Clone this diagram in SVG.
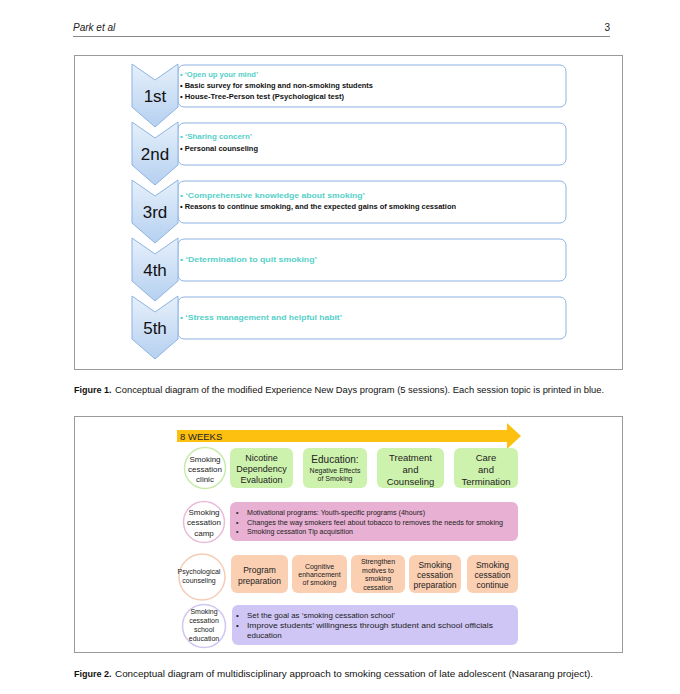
<svg xmlns="http://www.w3.org/2000/svg" width="680" height="694" viewBox="0 0 680 694">
<defs>
<linearGradient id="chev" x1="0" y1="0" x2="0" y2="1">
<stop offset="0" stop-color="#e6f0fb"/>
<stop offset="1" stop-color="#b5d0f0"/>
</linearGradient>
<style>
.hdr{font-family:"Liberation Sans",Arial,sans-serif;font-size:10px;fill:#222}
.cap{font-family:"Liberation Sans",Arial,sans-serif;font-size:9px;fill:#111}
.frame{fill:#fff;stroke:#9a9a9a;stroke-width:1}
.chev{fill:url(#chev);stroke:#8db3e2;stroke-width:1}
.sbox{fill:#fff;stroke:#8db3e2;stroke-width:1}
.num{font-family:"Liberation Sans",Arial,sans-serif;font-size:17px;fill:#111;text-anchor:middle}
.topic{font-family:"Liberation Sans",Arial,sans-serif;font-size:8px;font-weight:bold;fill:#55d0c8}
.item{font-family:"Liberation Sans",Arial,sans-serif;font-size:8px;font-weight:bold;fill:#111}
.t{font-family:"Liberation Sans",Arial,sans-serif;fill:#222;text-anchor:middle}
.l{font-family:"Liberation Sans",Arial,sans-serif;fill:#222}
.cg{fill:#fff;stroke:#c8eaa8;stroke-width:1.5}
.cp{fill:#fff;stroke:#e9bcd9;stroke-width:1.5}
.co{fill:#fff;stroke:#f5cdb5;stroke-width:1.5}
.cv{fill:#fff;stroke:#cfc6f2;stroke-width:1.5}
.g{fill:#cdf2ad}
.p{fill:#e8b0d2}
.o{fill:#fbcfb2}
.v{fill:#cfc6f6}
</style>
</defs>
<rect width="680" height="694" fill="#fff"/>

<!-- header -->
<text class="hdr" x="73" y="31" font-style="italic">Park et al</text>
<text class="hdr" x="610" y="31" text-anchor="end">3</text>
<line x1="73" y1="36.5" x2="610" y2="36.5" stroke="#888" stroke-width="1"/>

<!-- Figure 1 -->
<rect class="frame" x="74.5" y="55.5" width="548" height="314"/>

<g id="session1">
<rect class="sbox" x="178" y="65" width="388" height="42" rx="6"/>
<path class="chev" d="M132,64 L155,80 L178,64 L178,107 L155,127 L132,107 Z"/>
<text class="num" x="155" y="102">1st</text>
<text class="topic" x="180" y="77" textLength="78" lengthAdjust="spacingAndGlyphs">• ‘Open up your mind’</text>
<text class="item" x="180" y="88" textLength="193" lengthAdjust="spacingAndGlyphs">• Basic survey for smoking and non-smoking students</text>
<text class="item" x="180" y="99" textLength="164" lengthAdjust="spacingAndGlyphs">• House-Tree-Person test (Psychological test)</text>
</g>
<g id="session2">
<rect class="sbox" x="178" y="123" width="388" height="42" rx="6"/>
<path class="chev" d="M132,122 L155,138 L178,122 L178,165 L155,185 L132,165 Z"/>
<text class="num" x="155" y="160">2nd</text>
<text class="topic" x="180" y="139" textLength="72" lengthAdjust="spacingAndGlyphs">• ‘Sharing concern’</text>
<text class="item" x="180" y="151" textLength="78" lengthAdjust="spacingAndGlyphs">• Personal counseling</text>
</g>
<g id="session3">
<rect class="sbox" x="178" y="181" width="388" height="42" rx="6"/>
<path class="chev" d="M132,180 L155,196 L178,180 L178,223 L155,243 L132,223 Z"/>
<text class="num" x="155" y="218">3rd</text>
<text class="topic" x="180" y="198" textLength="185" lengthAdjust="spacingAndGlyphs">• ‘Comprehensive knowledge about smoking’</text>
<text class="item" x="180" y="209" textLength="276" lengthAdjust="spacingAndGlyphs">• Reasons to continue smoking, and the expected gains of smoking cessation</text>
</g>
<g id="session4">
<rect class="sbox" x="178" y="239" width="388" height="42" rx="6"/>
<path class="chev" d="M132,238 L155,254 L178,238 L178,281 L155,301 L132,281 Z"/>
<text class="num" x="155" y="276">4th</text>
<text class="topic" x="180" y="262" textLength="137" lengthAdjust="spacingAndGlyphs">• ‘Determination to quit smoking’</text>
</g>
<g id="session5">
<rect class="sbox" x="178" y="297" width="388" height="42" rx="6"/>
<path class="chev" d="M132,296 L155,312 L178,296 L178,339 L155,359 L132,339 Z"/>
<text class="num" x="155" y="334">5th</text>
<text class="topic" x="180" y="320" textLength="162" lengthAdjust="spacingAndGlyphs">• ‘Stress management and helpful habit’</text>
</g>

<text class="cap" x="74" y="393"><tspan font-weight="bold">Figure 1.</tspan></text>
<text class="cap" x="115" y="393" textLength="489" lengthAdjust="spacingAndGlyphs">Conceptual diagram of the modified Experience New Days program (5 sessions). Each session topic is printed in blue.</text>

<!-- Figure 2 -->
<rect class="frame" x="74.5" y="416.5" width="548" height="236"/>

<g id="connectors">
<path id="weeks-arrow" d="M177,430 L507,430 L507,423 L521,436 L507,449 L507,442 L177,442 Z" fill="#fdbf10"/>
</g>
<text class="l" x="180" y="440" font-size="9.5">8 WEEKS</text>

<g id="clinic">
<circle class="cg" cx="205" cy="468" r="20.5"/>
<text class="t" x="205" y="462" font-size="8">Smoking</text>
<text class="t" x="205" y="472" font-size="8">cessation</text>
<text class="t" x="205" y="482" font-size="8">clinic</text>
</g>
<g id="nicotine">
<rect class="g" x="230" y="448" width="63" height="40" rx="6"/>
<text class="t" x="261.5" y="461" font-size="9">Nicotine</text>
<text class="t" x="261.5" y="472" font-size="9">Dependency</text>
<text class="t" x="261.5" y="483" font-size="9">Evaluation</text>
</g>
<g id="education">
<rect class="g" x="303" y="448" width="64" height="40" rx="6"/>
<text class="t" x="335" y="463" font-size="10">Education:</text>
<text class="t" x="335" y="473" font-size="7">Negative Effects</text>
<text class="t" x="335" y="481" font-size="7">of Smoking</text>
</g>
<g id="treatment">
<rect class="g" x="377" y="448" width="67" height="40" rx="6"/>
<text class="t" x="410.5" y="461" font-size="9.5">Treatment</text>
<text class="t" x="410.5" y="473" font-size="9.5">and</text>
<text class="t" x="410.5" y="485" font-size="9.5">Counseling</text>
</g>
<g id="care">
<rect class="g" x="454" y="448" width="64" height="40" rx="6"/>
<text class="t" x="486" y="461" font-size="9.5">Care</text>
<text class="t" x="486" y="473" font-size="9.5">and</text>
<text class="t" x="486" y="485" font-size="9.5">Termination</text>
</g>

<g id="camp">
<circle class="cp" cx="204" cy="522" r="20.5"/>
<text class="t" x="204" y="515" font-size="8">Smoking</text>
<text class="t" x="204" y="525" font-size="8">cessation</text>
<text class="t" x="204" y="536" font-size="8">camp</text>
</g>
<g id="camp-box">
<rect class="p" x="230" y="502" width="288" height="39" rx="6"/>
<text class="l" x="236" y="515" font-size="7">•</text>
<text class="l" x="236" y="525" font-size="7">•</text>
<text class="l" x="236" y="534" font-size="7">•</text>
<text class="l" x="247" y="515" font-size="7.2" textLength="178" lengthAdjust="spacingAndGlyphs">Motivational programs: Youth-specific programs (4hours)</text>
<text class="l" x="247" y="525" font-size="7.2" textLength="256" lengthAdjust="spacingAndGlyphs">Changes the way smokers feel about tobacco to removes the needs for smoking</text>
<text class="l" x="247" y="534" font-size="7.2" textLength="106" lengthAdjust="spacingAndGlyphs">Smoking cessation Tip acquisition</text>
</g>

<g id="psych">
<circle class="co" cx="202" cy="577" r="23"/>
<text class="t" x="199" y="574" font-size="7">Psychological</text>
<text class="t" x="199" y="583" font-size="7">counseling</text>
</g>
<g id="prog-prep">
<rect class="o" x="231" y="555" width="57" height="38" rx="6"/>
<text class="t" x="259.5" y="573" font-size="8.5">Program</text>
<text class="t" x="259.5" y="584" font-size="8.5">preparation</text>
</g>
<g id="cognitive">
<rect class="o" x="292" y="555" width="55" height="38" rx="6"/>
<text class="t" x="319.5" y="569" font-size="7">Cognitive</text>
<text class="t" x="319.5" y="577" font-size="7">enhancement</text>
<text class="t" x="319.5" y="585" font-size="7">of smoking</text>
</g>
<g id="strengthen">
<rect class="o" x="351" y="555" width="54" height="38" rx="6"/>
<text class="t" x="378" y="564" font-size="7">Strengthen</text>
<text class="t" x="378" y="572.5" font-size="7">motives to</text>
<text class="t" x="378" y="581" font-size="7">smoking</text>
<text class="t" x="378" y="589.5" font-size="7">cessation</text>
</g>
<g id="cess-prep">
<rect class="o" x="409" y="555" width="52" height="38" rx="6"/>
<text class="t" x="435" y="568" font-size="8.5">Smoking</text>
<text class="t" x="435" y="578" font-size="8.5">cessation</text>
<text class="t" x="435" y="588" font-size="8.5">preparation</text>
</g>
<g id="cess-cont">
<rect class="o" x="467" y="555" width="51" height="38" rx="6"/>
<text class="t" x="492.5" y="568" font-size="8.5">Smoking</text>
<text class="t" x="492.5" y="578" font-size="8.5">cessation</text>
<text class="t" x="492.5" y="588" font-size="8.5">continue</text>
</g>

<g id="school">
<circle class="cv" cx="204" cy="626" r="21.5"/>
<text class="t" x="204" y="614" font-size="7">Smoking</text>
<text class="t" x="204" y="623" font-size="7">cessation</text>
<text class="t" x="204" y="632" font-size="7">school</text>
<text class="t" x="204" y="641" font-size="7">education</text>
</g>
<g id="school-box">
<rect class="v" x="232" y="605" width="286" height="40" rx="6"/>
<text class="l" x="236" y="618" font-size="8">•</text>
<text class="l" x="236" y="628" font-size="8">•</text>
<text class="l" x="247" y="618" font-size="8" textLength="148" lengthAdjust="spacingAndGlyphs">Set the goal as ‘smoking cessation school’</text>
<text class="l" x="247" y="628" font-size="8" textLength="246" lengthAdjust="spacingAndGlyphs">Improve students’ willingness through student and school officials</text>
<text class="l" x="247" y="638" font-size="8">education</text>
</g>

<text class="cap" x="74" y="677"><tspan font-weight="bold">Figure 2.</tspan></text>
<text class="cap" x="115" y="677" textLength="478" lengthAdjust="spacingAndGlyphs">Conceptual diagram of multidisciplinary approach to smoking cessation of late adolescent (Nasarang project).</text>
</svg>
